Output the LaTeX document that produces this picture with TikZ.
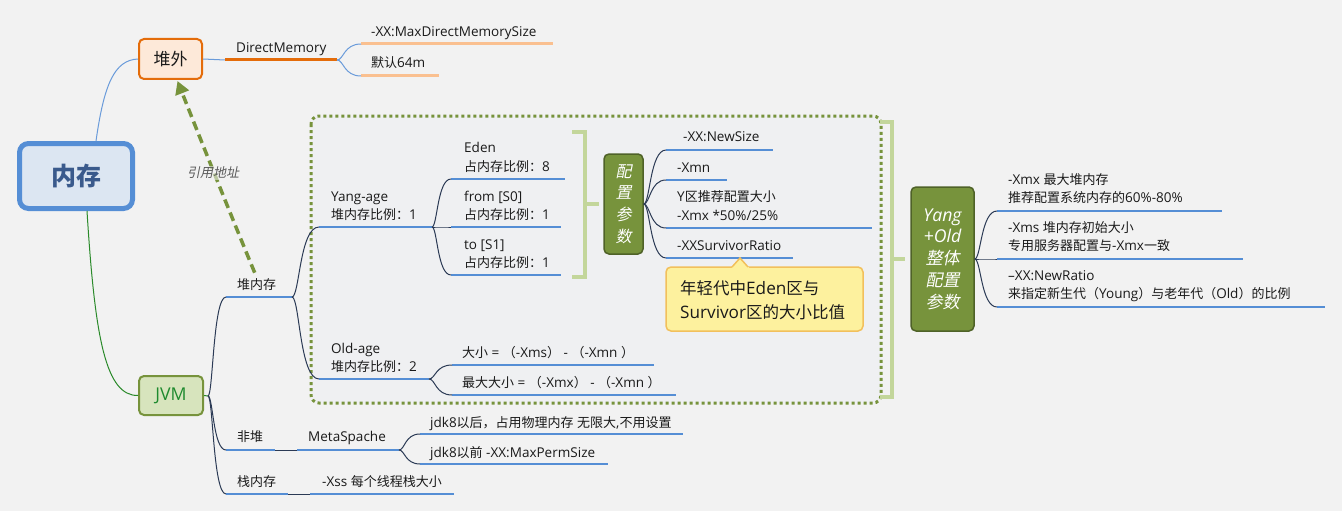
\documentclass[tikz,border=0pt]{standalone}
\usepackage{fontspec}
\setmainfont{Open Sans}[Scale=1.04]
\newfontfamily\cjkfont{Noto Sans CJK SC}[AutoFakeSlant=0.2]
\usetikzlibrary{arrows.meta,calc}
\XeTeXinterchartokenstate=1
\newXeTeXintercharclass\CJKcls
\makeatletter
\def\setcjkrange#1#2{\count@=#1\relax\loop\XeTeXcharclass\count@=\CJKcls\ifnum\count@<#2\advance\count@ 1\repeat}
\makeatother
\setcjkrange{"3000}{"303F}
\setcjkrange{"4E00}{"9FFF}
\setcjkrange{"FF00}{"FFEF}
\XeTeXinterchartoks 0 \CJKcls = {\begingroup\cjkfont}
\XeTeXinterchartoks 4095 \CJKcls = {\begingroup\cjkfont}
\XeTeXinterchartoks \CJKcls 0 = {\endgroup}
\XeTeXinterchartoks \CJKcls 4095 = {\endgroup}
\definecolor{bgc}{HTML}{F2F2F2}
\definecolor{regfill}{HTML}{EFF0F2}
\definecolor{olive}{HTML}{77933C}
\definecolor{olivedark}{HTML}{4F6228}
\definecolor{brkc}{HTML}{C3D69B}
\definecolor{ulblue}{HTML}{558ED5}
\definecolor{connc}{HTML}{2B3A55}
\definecolor{txtc}{HTML}{1A1A1A}
\definecolor{memfill}{HTML}{DCE6F2}
\definecolor{memline}{HTML}{558ED5}
\definecolor{memtxt}{HTML}{3A5A8C}
\definecolor{offfill}{HTML}{FDE9D9}
\definecolor{offline}{HTML}{E46C0A}
\definecolor{offlight}{HTML}{FAC090}
\definecolor{lblue}{HTML}{6A9BDA}
\definecolor{jvmfill}{HTML}{D7E4BD}
\definecolor{jvmtxt}{HTML}{1E8A2E}
\definecolor{jvmline}{HTML}{2A8A2A}
\definecolor{callfill}{HTML}{FDF19E}
\definecolor{callline}{HTML}{F2C05C}
\definecolor{labgray}{HTML}{5A5A5A}
\newcommand\tx[4]{\node[lbl] (#1) at (#2,#3+4.8) {#4};}
\newcommand\uline[5][ul]{\coordinate (#2-s) at (#3,#5);\coordinate (#2-e) at (#4,#5);\draw[#1] (#2-s) -- (#2-e);}
\newcommand\brc[3][conn]{\draw[#1] let \p1=(#2), \p2=(#3), \n1={\x1+0.28*(\x2-\x1)} in (\p1) .. controls (\n1,\y1) and (\n1,\y2) .. (\p2);}
\tikzset{
 lbl/.style={inner sep=0pt, anchor=base west, text=txtc, font=\fontsize{13}{16}\selectfont},
 ul/.style={draw=ulblue, line width=2pt},
 oul/.style={draw=offline, line width=3pt},
 lul/.style={draw=offlight, line width=3pt},
 conn/.style={draw=connc, line width=1pt},
 lconn/.style={draw=lblue, line width=1pt},
 gconn/.style={draw=jvmline, line width=1pt},
 brk/.style={draw=brkc, line width=4.5pt},
 cfgbox/.style={draw=olivedark, line width=1.5pt, fill=olive, rounded corners=5pt, inner sep=0pt, text=white, align=center},
 topbox/.style={line width=2pt, rounded corners=5pt, inner sep=0pt, font=\fontsize{17}{20}\selectfont},
}
\begin{document}
\begin{tikzpicture}[x=1pt,y=-1pt]
\useasboundingbox (0,0) rectangle (1342,511);
\fill[bgc] (0,0) rectangle (1342,511);
% dotted region
\draw[draw=olive, line width=3pt, dash pattern=on 3pt off 3pt, fill=regfill, rounded corners=8pt] (311,116) rectangle (881,403);
% brackets
\draw[brk] (572,132) -- (585,132) -- (585,277) -- (572,277);
\draw[brk] (585,204) -- (599,204);
\draw[brk] (880,122) -- (892,122) -- (892,397) -- (880,397);
\draw[brk] (892,259) -- (905,259);
% main nodes
\node[draw=memline, line width=5pt, fill=memfill, rounded corners=9pt, minimum width=113pt, minimum height=65pt, inner sep=0pt, text=memtxt, font=\fontsize{25}{30}\selectfont\bfseries] (mem) at (76,176) {内存};
\node[topbox, draw=offline, fill=offfill, minimum width=63pt, minimum height=40pt, text=txtc] (off) at (170.5,59) {堆外};
\node[topbox, draw=olive, fill=jvmfill, minimum width=64pt, minimum height=39pt, text=jvmtxt] (jvm) at (171,395.5) {JVM};
\node[cfgbox, minimum width=39pt, minimum height=100pt, font=\itshape\fontsize{16}{21.7}\selectfont] (cfg) at (623.5,204) {配\\置\\参\\数};
\node[cfgbox, minimum width=63pt, minimum height=144pt, font=\itshape\fontsize{17}{21.8}\selectfont] (yo) at (942.5,259) {Yang\\+Old\\整体\\配置\\参数};
% root connectors
\draw[lconn] ($(mem.north)+(20,0)$) .. controls (104,85) and (114,60) .. (off.west);
\draw[gconn] ($(mem.south)+(11,0)$) .. controls (95,340) and (106,396) .. (jvm.west);
% off-heap branch
\coordinate (dm-s) at (225,60);
\draw[lconn] (off.east) -- (dm-s);
\uline[oul]{dm}{225}{337}{60}
\uline[lul]{mdm}{361}{553}{44}
\uline[lul]{def}{361}{439}{76}
\brc[lconn]{dm-e}{mdm-s}
\brc[lconn]{dm-e}{def-s}
\tx{dmt}{236}{48}{DirectMemory}
\tx{mdmt}{371}{32}{-XX:MaxDirectMemorySize}
\tx{deft}{371}{63}{默认64m}
% JVM branch
\coordinate (jv) at (208,396);
\draw[gconn] (jvm.east) -- (jv);
\uline{heap}{226}{292}{297}
\uline{nonheap}{226}{275}{450}
\uline{meta}{297}{399}{450}
\uline{stack}{226}{288}{494}
\uline{xss}{310}{454}{494}
\brc{jv}{heap-s}
\brc{jv}{nonheap-s}
\brc{jv}{stack-s}
\draw[conn] (nonheap-e) -- (meta-s);
\draw[conn] (stack-e) -- (xss-s);
\tx{heapt}{237}{285}{堆内存}
\tx{nonheapt}{237}{437}{非堆}
\tx{metat}{308}{437}{MetaSpache}
\tx{stackt}{237}{482}{栈内存}
\tx{xsst}{322}{482}{-Xss 每个线程栈大小}
% metaspace children
\uline{jdka}{420}{683}{434}
\uline{jdkb}{420}{608}{464}
\brc{meta-e}{jdka-s}
\brc{meta-e}{jdkb-s}
\tx{jdkat}{430}{423}{jdk8以后，占用物理内存 无限大,不用设置}
\tx{jdkbt}{430}{453}{jdk8以前 -XX:MaxPermSize}
% heap children
\uline{yang}{319}{432}{227}
\uline{old}{319}{429}{379}
\brc{heap-e}{yang-s}
\brc{heap-e}{old-s}
\tx{yangt}{331}{197}{Yang-age}
\tx{yangr}{331}{215}{堆内存比例：1}
\tx{oldt}{331}{349}{Old-age}
\tx{oldr}{331}{367}{堆内存比例：2}
% young children
\uline{eden}{451}{565}{179}
\uline{from}{451}{561}{227}
\uline{to}{451}{561}{275}
\brc{yang-e}{eden-s}
\brc{yang-e}{from-s}
\brc{yang-e}{to-s}
\tx{edent}{464}{148}{Eden}
\tx{edenr}{464}{167}{占内存比例：8}
\tx{fromt}{464}{197}{from [S0]}
\tx{fromr}{464}{215}{占内存比例：1}
\tx{tot}{464}{245}{to [S1]}
\tx{tor}{464}{263}{占内存比例：1}
% old children
\uline{sza}{452}{654}{365}
\uline{szb}{452}{676}{395}
\brc{old-e}{sza-s}
\brc{old-e}{szb-s}
\tx{szat}{462}{353}{大小 = （-Xms） - （-Xmn ）}
\tx{szbt}{462}{383}{最大大小 = （-Xmx） - （-Xmn ）}
% config children
\uline{ns}{666}{773}{150}
\uline{xmn}{666}{727}{180}
\uline{yrec}{666}{872}{228}
\uline{surv}{666}{793}{258}
\brc{cfg.east}{ns-s}
\brc{cfg.east}{xmn-s}
\brc{cfg.east}{yrec-s}
\brc{cfg.east}{surv-s}
\tx{nst}{683}{137}{-XX:NewSize}
\tx{xmnt}{677}{168}{-Xmn}
\tx{yrect}{677}{197}{Y区推荐配置大小}
\tx{yrecr}{677}{216}{-Xmx *50\%/25\%}
\tx{survt}{677}{246}{-XXSurvivorRatio}
% callout
\draw[draw=callline, fill=callfill, line width=1.5pt, rounded corners=5pt] (666,267) rectangle (863,331);
\fill[callfill] (731.5,268.2) -- (740,258.5) -- (749.5,268.2) -- cycle;
\draw[draw=callline, line width=1.5pt] (732,267) -- (740,258) -- (748,267);
\node[lbl, font=\fontsize{16.5}{20}\selectfont] (calla) at (680,288+6.1) {年轻代中Eden区与};
\node[lbl, font=\fontsize{16.5}{20}\selectfont] (callb) at (680,312+6.1) {Survivor区的大小比值};
% Yang+Old children
\uline{xmx}{997}{1222}{211}
\uline{xms}{997}{1243}{259}
\uline{nr}{997}{1325}{307}
\brc{yo.east}{xmx-s}
\brc{yo.east}{xms-s}
\brc{yo.east}{nr-s}
\tx{xmxt}{1008}{180}{-Xmx 最大堆内存}
\tx{xmxr}{1008}{198}{推荐配置系统内存的60\%-80\%}
\tx{xmst}{1008}{228}{-Xms 堆内存初始大小}
\tx{xmsr}{1008}{246}{专用服务器配置与-Xmx一致}
\tx{nrt}{1008}{276}{–XX:NewRatio}
\tx{nrr}{1008}{294}{来指定新生代（Young）与老年代（Old）的比例}
% reference arrow
\draw[draw=olive, line width=3.5pt, dash pattern=on 9pt off 5pt, -{Triangle[width=14pt,length=13pt]}] ($(heapt.north)+(-2,-6)$) .. controls (232,218) and (196,128) .. ($(off.south)+(7,1)$);
\node[font=\itshape\fontsize{13}{16}\selectfont, text=labgray, fill=bgc, fill opacity=0.55, text opacity=1, inner sep=1pt] (reflab) at (213,173) {引用地址};
\end{tikzpicture}
\end{document}
